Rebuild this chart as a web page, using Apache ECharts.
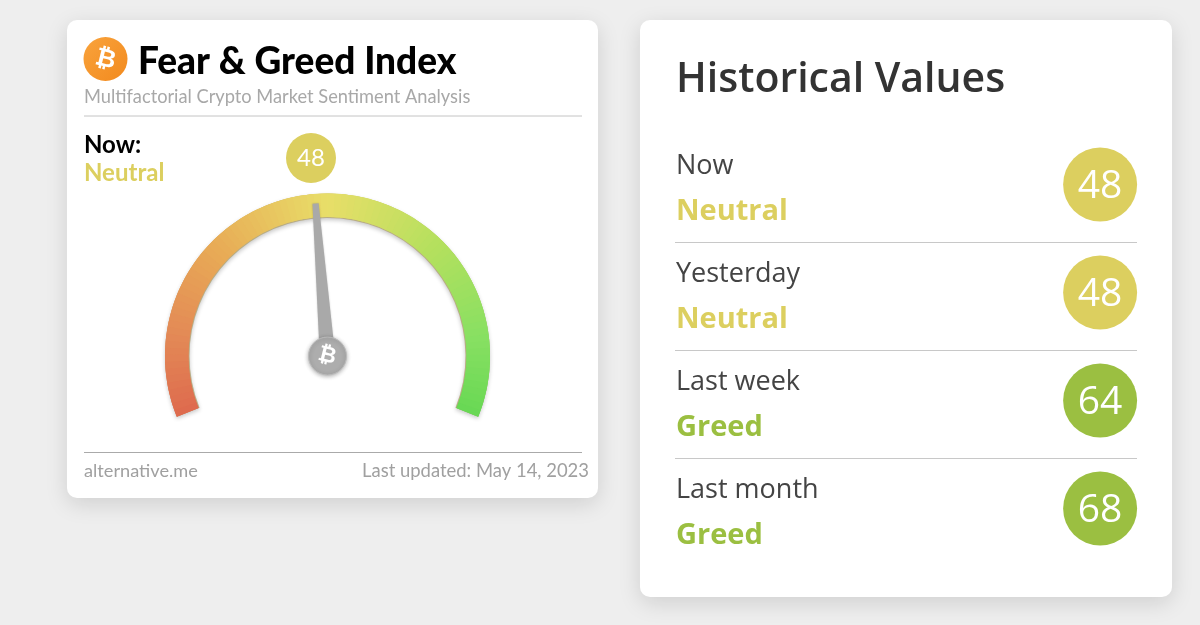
<!DOCTYPE html>
<html><head><meta charset="utf-8">
<style>html,body{margin:0;padding:0;background:#eeeeee}#c{width:1200px;height:625px}</style>
<script src="https://cdn.jsdelivr.net/npm/echarts@6/dist/echarts.min.js"></script></head>
<body><div id="c"></div>
<script>
const gaugeValue = 48;
const gaugeStatus = 'Neutral';
const rowLabels = ['Now', 'Yesterday', 'Last week', 'Last month'];
const rowStatus = ['Neutral', 'Neutral', 'Greed', 'Greed'];
const rowValues = [48, 48, 64, 68];
const statusColors = { Neutral: '#dccf5f', Greed: '#9bbf41' };
const gaugeStops = [[0,[222,106,78]],[0.13,[227,137,86]],[0.3,[232,172,86]],[0.5,[232,222,104]],[0.7,[180,224,94]],[0.87,[136,224,98]],[1,[104,216,84]]];

function gaugeColor(t){
  t=Math.max(0,Math.min(1,t));
  for(let i=1;i<gaugeStops.length;i++){
    const a=gaugeStops[i-1],b=gaugeStops[i];
    if(t<=b[0]){const k=(t-a[0])/(b[0]-a[0]);
      const m=a[1].map((v,j)=>Math.round(v+(b[1][j]-v)*k));
      return 'rgb('+m.join(',')+')';}
  }
}
const N=90;
const segsTop=[];for(let i=1;i<=N;i++){segsTop.push([i/N,gaugeColor((i-0.5)/N)]);}
const segsUnder=[];for(let i=0;i<=N;i++){segsUnder.push([Math.min(1,(i+0.5)/N),gaugeColor(i/N)]);}

const chart=echarts.init(document.getElementById('c'),null,{renderer:'canvas'});
const lato='Lato, sans-serif', body='"Open Sans", sans-serif';
const btcFont='"DejaVu Sans", sans-serif';
function card(x,y,w,h){return {type:'rect',z:-10,shape:{x,y,width:w,height:h,r:10},style:{fill:'#fff',shadowBlur:22,shadowOffsetY:6,shadowColor:'rgba(0,0,0,0.13)'}};}
function txt(x,y,t,font,fill,align){return {type:'text',z:5,x,y,style:{text:t,font,fill,align:align||'left',verticalAlign:'middle'}};}
function line(x1,x2,y,c){return {type:'line',z:5,shape:{x1,y1:y,x2,y2:y},style:{stroke:c,lineWidth:1}};}
const hidden={axisTick:{show:false},splitLine:{show:false},axisLabel:{show:false},pointer:{show:false},anchor:{show:false},title:{show:false},detail:{show:false}};
const arc={type:'gauge',center:[327.5,356],radius:162.5,startAngle:202,endAngle:-22,min:0,max:100,silent:true};

const option={
  backgroundColor:'#eeeeee',
  animation:false,
  grid:{left:676,top:134,width:461,height:432},
  xAxis:{type:'value',min:0,max:1,show:false},
  yAxis:{type:'category',inverse:true,data:rowLabels,axisLine:{show:false},axisTick:{show:false},
    axisLabel:{show:true,inside:true,margin:0,align:'left',verticalAlign:'middle',padding:[2,0,0,0],
      formatter:(v,i)=>'{l|'+v+'}\n{'+(rowStatus[i]==='Greed'?'g':'n')+'|'+rowStatus[i]+'}',
      rich:{
        l:{color:'#444',height:45,lineHeight:45,align:'left',fontSize:27,fontFamily:'Open Sans'},
        n:{fontSize:29,fontWeight:700,fontFamily:'Open Sans',color:statusColors.Neutral,height:45,lineHeight:45,align:'left'},
        g:{fontSize:29,fontWeight:700,fontFamily:'Open Sans',color:statusColors.Greed,height:45,lineHeight:45,align:'left'}
      }}},
  graphic:{elements:[
    card(67,20,531,478),
    card(640,20,532,577),
    {type:'circle',z:5,shape:{cx:105.5,cy:59,r:22},style:{fill:new echarts.graphic.LinearGradient(0,0,1,1,[{offset:0,color:'#f9a33c'},{offset:1,color:'#f28a1e'}])}},
    {type:'text',z:6,x:105.5,y:60,rotation:-14*Math.PI/180,style:{text:'₿',font:'bold 25px '+btcFont,fill:'#fff',align:'center',verticalAlign:'middle'}},
    txt(138,62,'Fear & Greed Index','900 37px '+lato,'#000'),
    txt(84,97,'Multifactorial Crypto Market Sentiment Analysis','400 18.25px '+lato,'#a8a8a8'),
    line(84,582,116,'#c4c4c4'),
    txt(84,145,'Now:','700 24px '+lato,'#000'),
    txt(84,173,gaugeStatus,'700 24px '+lato,statusColors[gaugeStatus]),
    line(84,582,452.5,'#aaaaaa'),
    txt(84,471,'alternative.me','400 18.2px '+lato,'#a0a0a0'),
    txt(589,471,'Last updated: May 14, 2023','400 18.45px '+lato,'#a0a0a0','right'),
    txt(676,80.5,'Historical Values','600 41px '+body,'#333'),
    line(675,1137,242.5,'#c8c8c8'),line(675,1137,350.5,'#c8c8c8'),line(675,1137,458.5,'#c8c8c8'),
    {type:'text',z:200,zlevel:1,x:327,y:356,rotation:-14*Math.PI/180,style:{text:'₿',font:'bold 22px '+btcFont,fill:'#fff',align:'center',verticalAlign:'middle'}}
  ]},
  series:[
    Object.assign({},arc,hidden,{z:2,axisLine:{lineStyle:{width:24.5,color:[[1,'#b9ad84']],shadowBlur:4,shadowOffsetY:2,shadowColor:'rgba(0,0,0,0.22)'}},data:[{value:0}]}),
    Object.assign({},arc,hidden,{z:3,axisLine:{lineStyle:{width:23.5,color:segsUnder}},data:[{value:0}]}),
    Object.assign({},arc,{z:4,
      axisLine:{lineStyle:{width:23.5,color:segsTop}},
      axisTick:{show:false},splitLine:{show:false},axisLabel:{show:false},
      progress:{show:false},
      pointer:{show:true,icon:'path://M-12 0 L12 0 L30 100 L-30 100 Z',length:153,width:15.5,keepAspect:false,offsetCenter:[0,0],
        itemStyle:{color:'#a9a9a9',shadowBlur:2,shadowColor:'rgba(0,0,0,0.2)'}},
      anchor:{show:true,showAbove:true,size:38,icon:'circle',itemStyle:{color:'#adadad',borderColor:'#bbbbbb',borderWidth:1,shadowBlur:4,shadowOffsetY:1,shadowColor:'rgba(0,0,0,0.3)'}},
      title:{show:false},
      detail:{show:true,valueAnimation:false,offsetCenter:[-16.5,-198],width:50,height:50,lineHeight:50,borderRadius:25,padding:0,
        backgroundColor:statusColors[gaugeStatus],color:'#fff',fontFamily:'Lato',fontSize:24,fontWeight:400,formatter:'{value}'},
      data:[{value:gaugeValue}]}),
    {type:'scatter',z:6,symbol:'circle',symbolSize:74,symbolOffset:[0,-3.5],silent:true,
      data:rowValues.map((v,i)=>({value:[0.92,i],itemStyle:{color:statusColors[rowStatus[i]],opacity:1},
        label:{show:true,position:'inside',offset:[0,2],formatter:String(v),color:'#fff',fontFamily:'Open Sans',fontSize:39}}))}
  ]
};
chart.setOption(option);
</script></body></html>
